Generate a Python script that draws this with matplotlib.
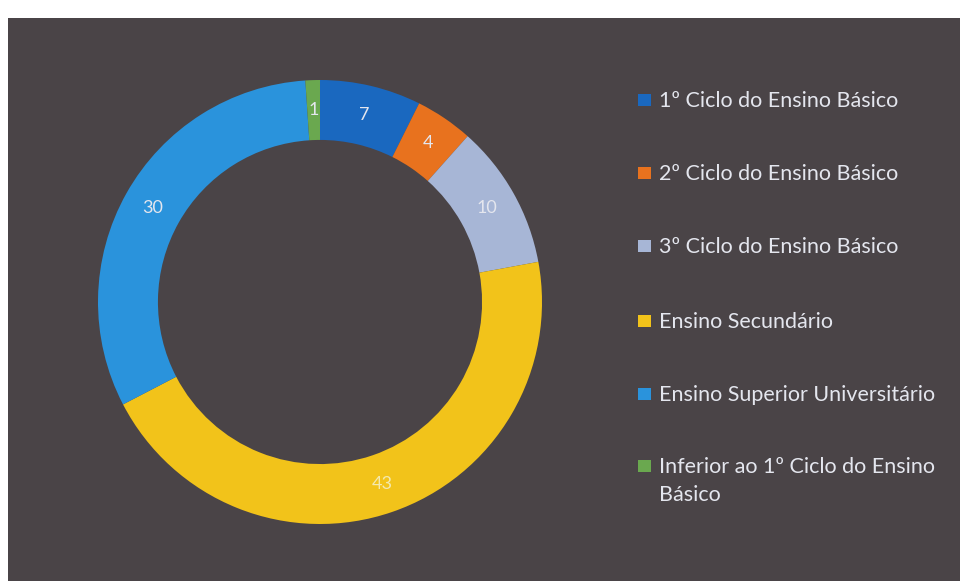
import numpy as np
import matplotlib.pyplot as plt
from matplotlib.patches import Rectangle

# --- Data ---
categories = [
    '1º Ciclo do Ensino Básico',
    '2º Ciclo do Ensino Básico',
    '3º Ciclo do Ensino Básico',
    'Ensino Secundário',
    'Ensino Superior Universitário',
    'Inferior ao 1º Ciclo do Ensino\nBásico',
]
values = [7, 4, 10, 43, 30, 1]
colors = ['#1a68bf', '#e8721e', '#a7b6d6', '#f2c31a', '#2a93dc', '#6aa84f']

panel_color = '#4a4447'
text_color = '#e4e6ee'

plt.rcParams['font.family'] = ['Lato', 'DejaVu Sans']

fig = plt.figure(figsize=(9.6, 5.81), dpi=100, facecolor='white')

# dark chart area (scanned page leaves a white margin on top/left)
fig.patches.append(Rectangle((8 / 960, 0), 1 - 8 / 960, 1 - 18 / 581,
                             transform=fig.transFigure, facecolor=panel_color,
                             edgecolor='none', zorder=-5))

# --- Donut ---
ax = fig.add_axes([98 / 960, 57 / 581, 444 / 960, 444 / 581])
ax.set_facecolor('none')
ring = 0.27
wedges, _ = ax.pie(values, colors=colors, startangle=90, counterclock=False,
                   radius=1.0, wedgeprops=dict(width=ring, edgecolor='none'))
ax.set_aspect('equal')
ax.set_xlim(-1, 1)
ax.set_ylim(-1, 1)
ax.axis('off')

# value labels at the middle of the ring
total = sum(values)
start = 90.0
for v in values:
    mid = np.deg2rad(start - 360.0 * v / total / 2)
    r = 1 - ring / 2
    lbl_color = '#f3e9b0' if v == 43 else text_color
    ax.text(r * np.cos(mid), r * np.sin(mid), str(v), ha='center', va='center',
            fontsize=13, color=lbl_color)
    start -= 360.0 * v / total

# --- Legend (manual, to match the spacing of the original) ---
row_y = [100, 173, 246, 321, 394, 466]
for name, col, y in zip(categories, colors, row_y):
    fig.patches.append(Rectangle((638 / 960, 1 - (y + 6) / 581), 13 / 960, 12 / 581,
                                 transform=fig.transFigure, facecolor=col,
                                 edgecolor='none', zorder=3))
    fig.text(659 / 960, 1 - (y - 9) / 581, name, ha='left', va='top',
             fontsize=15.5, color=text_color, linespacing=1.5)

fig.savefig('out.png', dpi=100, facecolor='white')
